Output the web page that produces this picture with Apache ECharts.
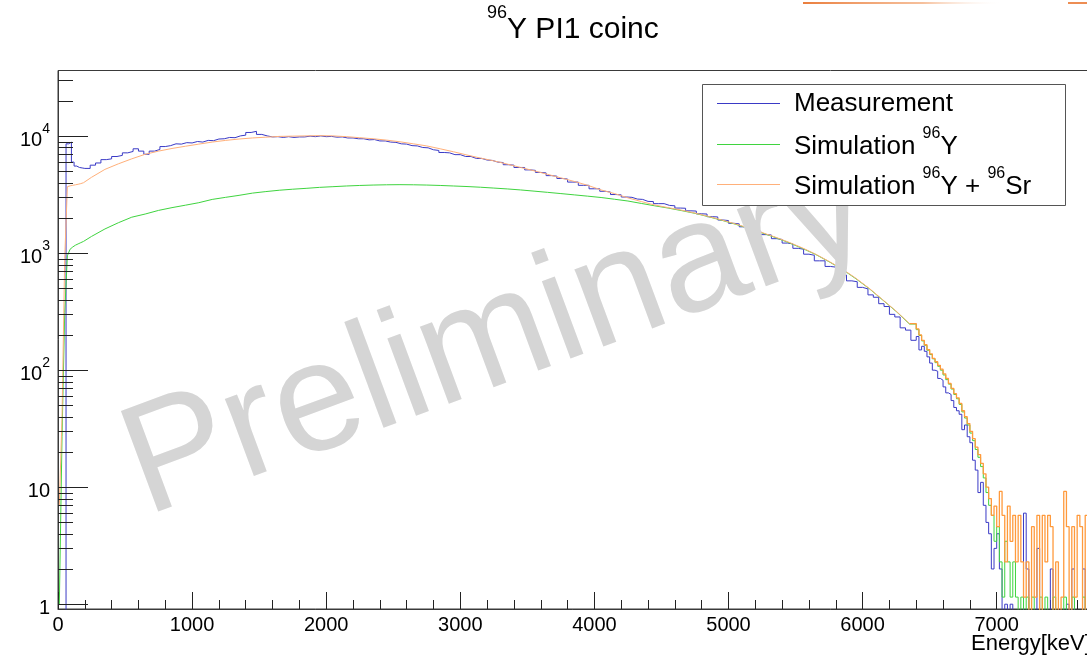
<!DOCTYPE html>
<html>
<head>
<meta charset="utf-8">
<title>96Y PI1 coinc</title>
<script src="https://cdn.jsdelivr.net/npm/echarts@6/dist/echarts.min.js"></script>
<style>
  html, body { margin: 0; padding: 0; background: #ffffff; }
  #chart { width: 1087px; height: 659px; }
</style>
</head>
<body>
<div id="chart"></div>
<script>
// ---- Energy binning (keV) ----
const lowStart = 0, lowWidth = 20;        // fine bins at threshold
const measBulkStart = 200, measBulkWidth = 40;
const simBulkStart = 200, simBulkWidth = 100;
const tailStart = 6400, tailWidth = 20;   // fine bins at the endpoint
const histEnd = 7700;

// ---- Measurement (counts per bin) ----
const measLow = [0, 0, 0, 8600, 8900, 6000, 5550, 5400, 5350, 5300];
const measBulk = [
  5300, 5650, 5900, 6300, 6400, 6700, 6850, 7200, 7400, 7800,
  7450, 7000, 7450, 7700, 8150, 8300, 8600, 8550, 8800, 8750,
  9000, 8900, 9200, 9150, 9450, 9500, 9750, 9700, 10050, 10200,
  10750, 11000, 10350, 10050, 9850, 9900, 9750, 9900, 9750, 9850,
  9850, 10000, 9900, 10050, 9900, 9950, 9800, 9850, 9650, 9650,
  9500, 9500, 9300, 9350, 9100, 9100, 8900, 8850, 8600, 8550,
  8300, 8250, 8000, 7950, 7650, 7550, 7250, 7200, 6950, 6950,
  6700, 6700, 6450, 6450, 6250, 6200, 6000, 5950, 5700, 5650,
  5400, 5400, 5150, 5100, 4900, 4850, 4600, 4550, 4350, 4300,
  4050, 4050, 3800, 3800, 3550, 3550, 3380, 3330, 3170, 3150,
  3020, 3000, 2900, 2880, 2770, 2760, 2650, 2650, 2560, 2540,
  2430, 2420, 2300, 2290, 2170, 2160, 2050, 2040, 1920, 1900,
  1800, 1780, 1680, 1660, 1560, 1540, 1440, 1430, 1330, 1310,
  1220, 1200, 1100, 1080, 980, 960, 860, 860, 770, 760,
  690, 650, 580, 570, 510, 495, 440, 420, 370, 350,
  300, 285, 230, 220, 180
];
const measTail = [
  194, 149, 160, 145, 130, 115, 100, 98, 85, 82,
  72, 64, 62, 55, 48, 45, 42, 31, 34, 27,
  24, 17, 14, 9, 11, 7, 5, 4, 2, 3,
  4, 2, 0, 1, 0, 1, 0, 0, 0, 0,
  6, 2, 0, 0, 0, 3, 0, 0, 0, 0,
  2, 0, 0, 0, 0, 0, 1, 0, 2, 0,
  0, 0, 2, 0, 0
];

// ---- Simulation 96Y ----
const simYLow = [1, 27, 310, 950, 1080, 1130, 1170, 1200, 1230, 1260];
const simYBulk = [
  1390, 1610, 1820, 2030, 2160, 2320, 2450, 2570, 2700, 2880,
  3000, 3120, 3260, 3360, 3450, 3520, 3580, 3650, 3700, 3750,
  3790, 3820, 3840, 3850, 3840, 3820, 3790, 3750, 3710, 3660,
  3600, 3540, 3470, 3390, 3310, 3230, 3150, 3070, 2990, 2890,
  2790, 2660, 2540, 2430, 2310, 2190, 2050, 1910, 1770, 1630,
  1490, 1360, 1230, 1100, 975, 845, 725, 605, 497, 398,
  318, 248
];
const simYTail = [
  222, 198, 178, 163, 148, 136, 125, 116, 108, 100,
  91, 83, 76, 69, 62, 57, 51, 44, 39, 34,
  29, 25, 21, 18, 15, 12, 9, 7, 5.75, 3.45,
  4.6, 2.3, 1.15, 3.45, 2.3, 1.15, 2.3, 1.15, 0, 1.15,
  0, 1.15, 0, 1.15, 0, 0, 1.15, 0, 1.15, 0,
  0, 1.15, 0, 0, 0, 1.15, 0, 0, 1.15, 0,
  0, 0, 1.15, 0, 0
];

// ---- Simulation 96Y + 96Sr ----
const simSumLow = [7, 40, 900, 3700, 3760, 3800, 3840, 3880, 3930, 4000];
const simSumBulk = [
  4450, 5200, 5800, 6400, 7000, 7450, 7850, 8200, 8550, 8900,
  9200, 9450, 9650, 9800, 9950, 10000, 10050, 10100, 10050, 9900,
  9700, 9500, 9250, 8950, 8600, 8250, 7800, 7350, 6900, 6500,
  6150, 5770, 5400, 5060, 4720, 4400, 4100, 3800, 3470, 3230,
  2970, 2760, 2580, 2450, 2330, 2200, 2060, 1920, 1780, 1640,
  1500, 1370, 1240, 1110, 980, 850, 730, 610, 500, 400,
  320, 250
];
const simSumTail = [
  225, 200, 180, 165, 150, 138, 126, 118, 110, 102,
  93, 85, 77, 70, 63, 58, 52, 45, 40, 35,
  30, 26, 22, 19, 16, 13, 10, 8, 5.75, 6.9,
  4.6, 9.2, 5.75, 2.3, 6.9, 3.45, 5.75, 2.3, 5.75, 2.3,
  1.15, 2.3, 0, 4.6, 1.15, 5.75, 0, 5.75, 2.3, 5.75,
  4.6, 0, 2.3, 0, 1.15, 9.2, 4.6, 0, 4.6, 1.15,
  5.75, 4.6, 0, 5.75, 4.6
];

// ---- Axis labels ----
const xTickLabels = ['0', '1000', '2000', '3000', '4000', '5000', '6000', '7000'];
const yDecades = [1, 10, 100, 1000, 10000];
const yTickValues = [
  1, 2, 3, 4, 5, 6, 7, 8, 9,
  10, 20, 30, 40, 50, 60, 70, 80, 90,
  100, 200, 300, 400, 500, 600, 700, 800, 900,
  1000, 2000, 3000, 4000, 5000, 6000, 7000, 8000, 9000,
  10000, 20000, 30000
];

// Empty bins are drawn down to the floor of the log axis, as ROOT does.
const EMPTY = 0.3;

function histPoints(start, width, counts) {
  return counts.map((c, i) => [start + i * width, Math.max(c, EMPTY)]);
}
function centrePoints(start, width, counts) {
  return counts.map((c, i) => [start + (i + 0.5) * width, Math.max(c, EMPTY)]);
}

const measData = histPoints(lowStart, lowWidth, measLow)
  .concat(histPoints(measBulkStart, measBulkWidth, measBulk))
  .concat(histPoints(tailStart, tailWidth, measTail));
measData.push([histEnd, Math.max(measTail[measTail.length - 1], EMPTY)]);

function simSeriesData(low, bulk, tail) {
  const smooth = centrePoints(lowStart, lowWidth, low)
    .concat(centrePoints(simBulkStart, simBulkWidth, bulk));
  const end = smooth[smooth.length - 1];
  const steps = [end].concat(histPoints(tailStart, tailWidth, tail));
  steps.push([histEnd, Math.max(tail[tail.length - 1], EMPTY)]);
  return { smooth, steps };
}
const simY = simSeriesData(simYLow, simYBulk, simYTail);
const simSum = simSeriesData(simSumLow, simSumBulk, simSumTail);

const BLUE = '#3a3ac6';
const GREEN = '#3fd43f';
const ORANGE = '#ffb07a';
const ORANGE_TAIL = '#ff9a3c';
const FONT = '"Liberation Sans", Arial, Helvetica, sans-serif';

const chart = echarts.init(document.getElementById('chart'), null, { renderer: 'canvas' });

const xPerKeV = 0.1341;
const xMax = 8000;

function lineSeries(name, data, color, z, step, width) {
  return {
    name, type: 'line', data, step: step ? 'end' : false,
    showSymbol: false, symbol: 'none', clip: true, silent: true,
    lineStyle: { color, width: width || 1 }, z, animation: false
  };
}

const option = {
  backgroundColor: '#ffffff',
  animation: false,
  grid: {
    left: 58, top: 70.5, width: xMax * xPerKeV, height: 538.5,
    outerBoundsMode: 'none', containLabel: false,
    show: true, borderColor: '#3a3a3a', borderWidth: 1, backgroundColor: 'transparent'
  },
  xAxis: {
    type: 'value', min: 0, max: xMax, interval: 1000,
    axisLine: { show: true, lineStyle: { color: '#3a3a3a', width: 1 } },
    axisTick: { show: true, inside: true, length: 17, lineStyle: { color: '#222', width: 1 } },
    minorTick: { show: true, splitNumber: 5, length: 9, lineStyle: { color: '#222', width: 1 } },
    splitLine: { show: false },
    axisLabel: {
      color: '#000', fontSize: 20, fontFamily: FONT, margin: 6,
      formatter: v => (v % 1000 === 0 && v / 1000 < xTickLabels.length) ? xTickLabels[v / 1000] : ''
    }
  },
  yAxis: {
    type: 'log', logBase: 10, min: 0.91, max: 36400,
    axisLine: { show: true, lineStyle: { color: '#3a3a3a', width: 1 } },
    axisTick: { show: false },
    splitLine: { show: false },
    axisLabel: {
      margin: 8, color: '#000',
      formatter: v => {
        const d = yDecades.find(t => Math.abs(Math.log10(v) - Math.log10(t)) < 1e-6);
        if (d === undefined) return '';
        if (d === 1) return '{b|1}';
        if (d === 10) return '{b|10}';
        return '{b|10}{s|' + Math.round(Math.log10(d)) + '}';
      },
      rich: {
        b: { fontSize: 20, fontFamily: FONT, color: '#000', lineHeight: 28, verticalAlign: 'bottom' },
        s: { fontSize: 14, fontFamily: FONT, color: '#000', lineHeight: 14, verticalAlign: 'top' }
      }
    }
  },
  series: [
    lineSeries('Measurement', measData, BLUE, 3, true),
    lineSeries('Simulation 96Y', simY.smooth, GREEN, 4, false),
    lineSeries('Simulation 96Y tail', simY.steps, GREEN, 4, true),
    lineSeries('Simulation 96Y + 96Sr', simSum.smooth, ORANGE, 5, false),
    lineSeries('Simulation 96Y + 96Sr tail', simSum.steps, ORANGE_TAIL, 5, true, 1.3),
    {
      // ROOT style y ticks: long at decades, short at 2..9
      type: 'custom', name: 'yTicks', silent: true, z: 6, animation: false,
      data: yTickValues.map(v => [0, v]),
      encode: { x: 0, y: 1 },
      renderItem: (params, api) => {
        const v = api.value(1);
        const p = api.coord([0, v]);
        const major = yDecades.indexOf(v) >= 0;
        const y = Math.round(p[1]) + 0.5;
        return {
          type: 'line',
          shape: { x1: p[0], y1: y, x2: p[0] + (major ? 30 : 15), y2: y },
          style: { stroke: '#222', lineWidth: 1 }
        };
      }
    }
  ],
  graphic: [
    // header rule of the page
    {
      type: 'rect', left: 803, top: 2, z: 10,
      shape: { width: 200, height: 2 },
      style: { fill: new echarts.graphic.LinearGradient(0, 0, 1, 0, [
        { offset: 0, color: 'rgba(232,112,40,0.9)' },
        { offset: 0.6, color: 'rgba(240,150,90,0.6)' },
        { offset: 1, color: 'rgba(255,255,255,0)' }
      ]) }
    },
    {
      type: 'rect', left: 1068, top: 2, z: 10,
      shape: { width: 19, height: 2 },
      style: { fill: 'rgba(232,112,40,0.8)' }
    },
    // title
    {
      type: 'text', left: 487, top: 4, z: 100,
      style: {
        text: '{s|96}{t|Y PI1 coinc}',
        rich: {
          s: { fontSize: 18, fontFamily: FONT, fill: '#000', lineHeight: 18, verticalAlign: 'top' },
          t: { fontSize: 30, fontFamily: FONT, fill: '#000', lineHeight: 41, verticalAlign: 'bottom' }
        }
      }
    },
    // x axis title
    {
      type: 'text', left: 971, top: 633, z: 100,
      style: { text: 'Energy[keV]', fontSize: 22, fontFamily: FONT, fill: '#000' }
    },
    // watermark
    {
      type: 'text', z: 60, x: 497, y: 340, rotation: 0.355,
      style: {
        text: 'Preliminary', fontSize: 156, fontFamily: FONT, fill: '#d5d5d5',
        align: 'center', verticalAlign: 'middle'
      }
    },
    // legend
    {
      type: 'group', z: 100,
      children: [
        { type: 'rect', shape: { x: 702.5, y: 84.5, width: 363, height: 121 },
          style: { fill: '#fff', stroke: '#555', lineWidth: 1 }, z: 100 },
        { type: 'line', shape: { x1: 717, y1: 103.5, x2: 780, y2: 103.5 },
          style: { stroke: BLUE, lineWidth: 1 }, z: 101 },
        { type: 'line', shape: { x1: 717, y1: 144.5, x2: 780, y2: 144.5 },
          style: { stroke: GREEN, lineWidth: 1 }, z: 101 },
        { type: 'line', shape: { x1: 717, y1: 184.5, x2: 780, y2: 184.5 },
          style: { stroke: ORANGE, lineWidth: 1 }, z: 101 },
        { type: 'text', x: 794, y: 104, z: 101,
          style: { text: 'Measurement', fontSize: 26, fontFamily: FONT, fill: '#000', verticalAlign: 'middle' } },
        { type: 'text', x: 794, y: 126, z: 101,
          style: {
            text: '{t|Simulation }{s|96}{t|Y}',
            rich: {
              s: { fontSize: 16, fontFamily: FONT, fill: '#000', lineHeight: 16, verticalAlign: 'top' },
              t: { fontSize: 26, fontFamily: FONT, fill: '#000', lineHeight: 34, verticalAlign: 'bottom' }
            }
          } },
        { type: 'text', x: 794, y: 166, z: 101,
          style: {
            text: '{t|Simulation }{s|96}{t|Y + }{s|96}{t|Sr}',
            rich: {
              s: { fontSize: 16, fontFamily: FONT, fill: '#000', lineHeight: 16, verticalAlign: 'top' },
              t: { fontSize: 26, fontFamily: FONT, fill: '#000', lineHeight: 34, verticalAlign: 'bottom' }
            }
          } }
      ]
    }
  ]
};

chart.setOption(option);
</script>
</body>
</html>
